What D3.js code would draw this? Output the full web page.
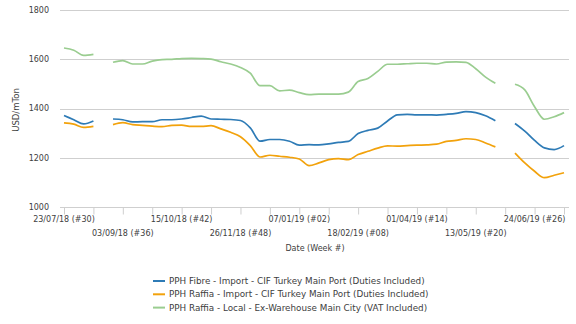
<!DOCTYPE html>
<html>
<head>
<meta charset="utf-8">
<script src="https://cdn.jsdelivr.net/npm/d3@7"></script>
<style>
  body { margin: 0; background: #fff; }
  text { font-family: "DejaVu Sans", sans-serif; fill: #404040; }
</style>
</head>
<body>
<script>
// Weekly prices, 23/07/18 (#30) to 15/07/19 (#29); null = no quote that week
const startWeek = new Date(2018, 6, 23);
const weekCount = 52;

const fibreImport = [
  1372, 1355, 1338, 1350, null, 1358, 1355, 1346, 1347, 1347,
  1355, 1355, 1358, 1364, 1370, 1358, 1357, 1356, 1352, 1322,
  1268, 1275, 1275, 1268, 1252, 1254, 1253, 1257, 1263, 1267,
  1299, 1312, 1321, 1350, 1375, 1377, 1375, 1375, 1374, 1377,
  1381, 1388, 1384, 1371, 1351, null, 1340, 1309, 1271, 1241,
  1234, 1250
];
const raffiaImport = [
  1342, 1337, 1324, 1328, null, 1335, 1343, 1335, 1332, 1329,
  1327, 1332, 1333, 1328, 1328, 1331, 1318, 1304, 1286, 1250,
  1204, 1211, 1207, 1203, 1196, 1169, 1180, 1193, 1197, 1193,
  1214, 1227, 1240, 1249, 1248, 1250, 1252, 1253, 1256, 1267,
  1271, 1278, 1275, 1261, 1245, null, 1220, 1180, 1146, 1120,
  1130, 1140
];
const raffiaLocal = [
  1646, 1637, 1616, 1620, null, 1588, 1595, 1581, 1581, 1593,
  1599, 1600, 1603, 1604, 1603, 1601, 1590, 1581, 1567, 1544,
  1493, 1493, 1472, 1475, 1465, 1457, 1459, 1459, 1459, 1467,
  1510, 1522, 1551, 1580, 1580, 1582, 1584, 1584, 1581, 1589,
  1590, 1588, 1562, 1528, 1503, null, 1499, 1476, 1408, 1357,
  1367, 1384
];

const seriesNames = [
  "PPH Fibre - Import - CIF Turkey Main Port (Duties Included)",
  "PPH Raffia - Import - CIF Turkey Main Port (Duties Included)",
  "PPH Raffia - Local - Ex-Warehouse Main City (VAT Included)"
];
const seriesColors = ["#2e7bb6", "#f2a20c", "#9acd90"];
const yTicks = [1000, 1200, 1400, 1600, 1800];

const width = 576, height = 324;
const weeks = d3.range(weekCount).map(i => d3.timeWeek.offset(startWeek, i));

const svg = d3.select("body").append("svg")
  .attr("width", width)
  .attr("height", height);

const x = d3.scaleTime()
  .domain([weeks[0], weeks[weekCount - 1]])
  .range([64, 564]);

const y = d3.scaleLinear()
  .domain([1000, 1800])
  .range([207.3, 10]);

// horizontal grid
svg.append("g")
  .selectAll("line")
  .data(yTicks)
  .join("line")
  .attr("x1", 60)
  .attr("x2", 569)
  .attr("y1", d => Math.round(y(d)) + 0.5)
  .attr("y2", d => Math.round(y(d)) + 0.5)
  .attr("stroke", "#cfcfcf")
  .attr("stroke-width", 1);

// y labels
svg.append("g")
  .selectAll("text")
  .data(yTicks)
  .join("text")
  .attr("x", 49)
  .attr("y", d => y(d))
  .attr("dy", "0.35em")
  .attr("text-anchor", "end")
  .attr("font-size", 8)
  .text(d => d);

svg.append("text")
  .attr("transform", "translate(19,110) rotate(-90)")
  .attr("text-anchor", "middle")
  .attr("font-size", 8.5)
  .text("USD/mTon");

// x axis: tick every 3 weeks, label every 6 on two staggered rows
const tickWeeks = weeks.filter((d, i) => i % 3 === 0);
const fmt = d => d3.timeFormat("%d/%m/%y")(d) + " (#" + d3.timeFormat("%V")(d) + ")";

const xAxis = svg.append("g")
  .attr("transform", `translate(0,${Math.round(y(1000)) + 0.5})`)
  .call(d3.axisBottom(x)
    .tickValues(tickWeeks)
    .tickSize(7)
    .tickFormat(""));
xAxis.select(".domain").remove();
xAxis.selectAll(".tick line").attr("stroke", "#cfcfcf");

svg.append("g")
  .selectAll("text")
  .data(weeks.filter((d, i) => i % 6 === 0))
  .join("text")
  .attr("x", d => x(d))
  .attr("y", (d, i) => i % 2 === 0 ? 222 : 236)
  .attr("text-anchor", "middle")
  .attr("font-size", 8)
  .text(fmt);

svg.append("text")
  .attr("x", 315)
  .attr("y", 251)
  .attr("text-anchor", "middle")
  .attr("font-size", 8)
  .text("Date (Week #)");

// price lines
const line = d3.line()
  .defined(d => d.v != null)
  .x(d => x(d.date))
  .y(d => y(d.v))
  .curve(d3.curveMonotoneX);

[fibreImport, raffiaImport, raffiaLocal].forEach((vals, k) => {
  svg.append("path")
    .datum(vals.map((v, i) => ({ date: weeks[i], v })))
    .attr("fill", "none")
    .attr("stroke", seriesColors[k])
    .attr("stroke-width", 1.7)
    .attr("d", line);
});

// legend
const legend = svg.append("g")
  .selectAll("g")
  .data(seriesNames)
  .join("g")
  .attr("transform", (d, i) => `translate(153,${281 + i * 13.3})`);

legend.append("line")
  .attr("x1", 0)
  .attr("x2", 12)
  .attr("stroke", (d, i) => seriesColors[i])
  .attr("stroke-width", 2);

legend.append("text")
  .attr("x", 16)
  .attr("dy", "0.35em")
  .attr("font-size", 8.8)
  .text(d => d);
</script>
</body>
</html>
